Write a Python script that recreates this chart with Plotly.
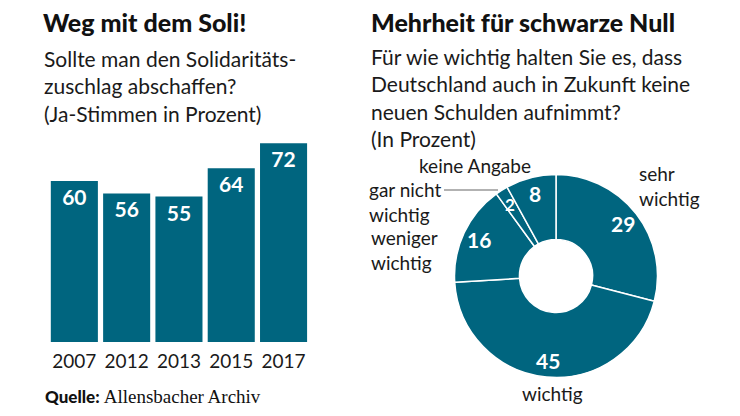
import math
import plotly.graph_objects as go

# ---- data ----
years = ["2007", "2012", "2013", "2015", "2017"]
ja_stimmen = [60, 56, 55, 64, 72]

pie_labels = ["sehr wichtig", "wichtig", "weniger wichtig", "gar nicht wichtig", "keine Angabe"]
pie_values = [29, 45, 16, 2, 8]

left_subtitle = ["Sollte man den Solidaritäts-", "zuschlag abschaffen?", "(Ja-Stimmen in Prozent)"]
right_subtitle = ["Für wie wichtig halten Sie es, dass", "Deutschland auch in Zukunft keine",
                  "neuen Schulden aufnimmt?", "(In Prozent)"]

TEAL = "#00657f"
TXT = "#1a1a1a"
BODY = "Lato, Roboto, sans-serif"
HEAVY = "Lato Black, Lato, Roboto, sans-serif"
BOLD = "Lato, Roboto, sans-serif"
W, H = 740, 416
SUB = 21    # subtitle font size
LAB = 19    # label font size

def px(x):
    return x / W

def py(y):
    return 1 - y / H

fig = go.Figure()

# ---- bar chart ----
fig.add_trace(go.Bar(
    x=years, y=ja_stimmen,
    marker=dict(color=TEAL, line=dict(width=0)),
    text=[str(v) for v in ja_stimmen],
    textposition="inside", insidetextanchor="end",
    textfont=dict(family=BOLD, size=21, color="white", weight=700),
    constraintext="none",
    xaxis="x", yaxis="y", showlegend=False, hoverinfo="skip",
))

# ---- donut ----
cx, cy, R = 556, 276, 101.5
fig.add_trace(go.Pie(
    labels=pie_labels, values=pie_values, sort=False, direction="clockwise",
    rotation=0, hole=0.36, textinfo="none", showlegend=False, hoverinfo="skip",
    marker=dict(colors=[TEAL] * len(pie_values), line=dict(color="white", width=1.5)),
    domain=dict(x=[px(cx - R), px(cx + R)], y=[py(cy + R), py(cy - R)]),
))

annotations = []

def add_text(x, y, text, size=LAB, family=BODY, color=TXT, anchor="left", weight=None):
    f = dict(family=family, size=size, color=color)
    if weight:
        f["weight"] = weight
    annotations.append(dict(x=px(x), y=py(y), xref="paper", yref="paper", text=text,
                            showarrow=False, xanchor=anchor, yanchor="middle", align="left",
                            font=f))

# titles
add_text(41, 22, "Weg mit dem Soli!", size=25, family=HEAVY, color="#111", weight=900)
add_text(369, 22, "Mehrheit für schwarze Null", size=25, family=HEAVY, color="#111", weight=900)

# subtitles (one text block each)
add_text(42, 86, "<br>".join(left_subtitle), size=SUB)
add_text(369, 97.5, "<br>".join(right_subtitle), size=SUB)

# source
annotations.append(dict(
    x=px(43), y=py(396), xref="paper", yref="paper", xanchor="left", yanchor="middle",
    showarrow=False,
    text="<b>Quelle:</b> <span style='font-family:Liberation Serif, serif; font-weight:normal; font-size:19px'>Allensbacher Archiv</span>",
    font=dict(family=HEAVY, size=17, color="#111", weight=900),
))

# donut value labels (positions derived from slice mid-angles)
total = sum(pie_values)
cum = 0
r_lab = 85
for lab, v in zip(pie_labels, pie_values):
    theta = 2 * math.pi * (cum + v / 2) / total
    cum += v
    lx = cx + r_lab * math.sin(theta)
    ly = cy - r_lab * math.cos(theta)
    add_text(lx, ly, str(v), size=21 if v > 3 else 17, family=BOLD, color="white",
             anchor="center", weight=700)

# donut category labels
add_text(417, 165, "keine Angabe")
add_text(637, 186, "sehr<br>wichtig")
add_text(367, 201.5, "gar nicht<br>wichtig")
add_text(369, 249.5, "weniger<br>wichtig")
add_text(552, 393, "wichtig", anchor="center")

fig.update_layout(
    width=W, height=H,
    margin=dict(l=0, r=0, t=0, b=0),
    paper_bgcolor="white", plot_bgcolor="white",
    bargap=0.1,
    xaxis=dict(domain=[px(48.2), px(309.7)], type="category", showgrid=False, zeroline=False,
               showline=False, ticks="", ticklabelstandoff=6,
               tickfont=dict(family=BODY, size=19, color=TXT), fixedrange=True),
    yaxis=dict(domain=[py(342), py(130)], range=[8.7, 76.2], visible=False, fixedrange=True),
    annotations=annotations,
    shapes=[dict(type="line", xref="paper", yref="paper", x0=px(444), x1=px(498),
                 y0=py(190), y1=py(190), line=dict(color="#666", width=1.2))],
)

fig.write_html("out.html", config=dict(displayModeBar=False),
               post_script="document.body.style.margin='0';document.body.style.padding='0';")
